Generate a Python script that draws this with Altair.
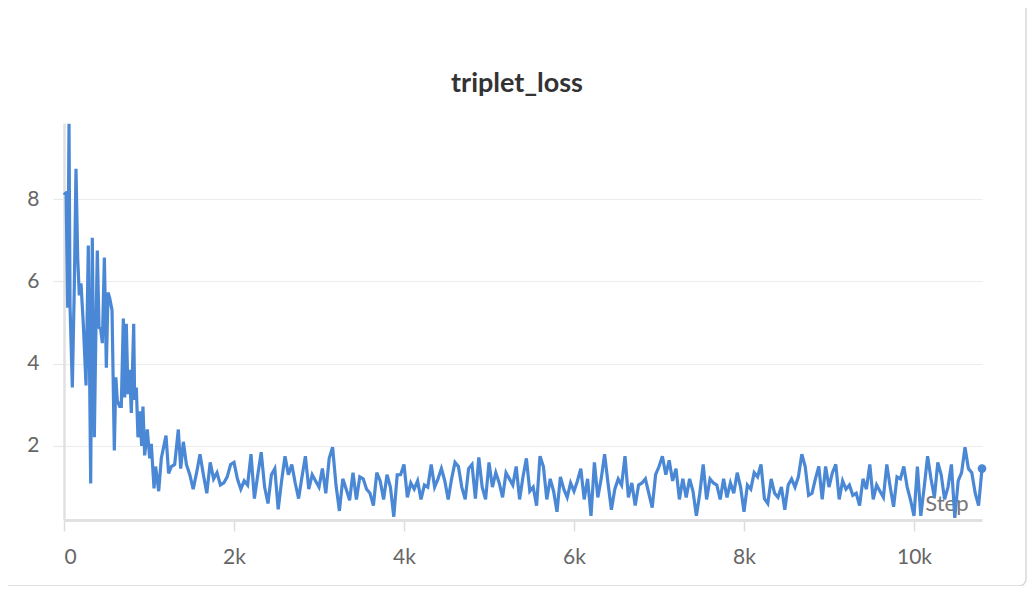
import altair as alt
import pandas as pd

# ---- data ----
steps_early = [0, 12, 25, 43, 59, 71, 98, 122, 141, 161, 180, 200, 227, 259, 286,
               314, 333, 357, 373, 392, 412, 431, 451, 475, 498, 518, 537, 565, 592, 610,
               627, 655, 674, 698, 714, 733, 753, 772, 792, 820, 831, 851, 870, 890, 914,
               929, 949, 980, 1008, 1027, 1059, 1078, 1114, 1145, 1200, 1231, 1263, 1302,
               1345, 1373, 1404]
loss_early = [8.1, 8.13, 8.15, 5.36, 9.83, 5.4, 3.42, 5.95, 8.74, 6.58, 5.66, 5.95, 4.97, 3.47, 6.87,
              1.09, 7.06, 2.21, 4.49, 6.75, 4.88, 4.85, 4.5, 6.58, 3.9, 5.73, 5.6, 5.3, 1.89, 3.67,
              3.1, 2.96, 2.96, 5.1, 3.18, 4.97, 3.26, 3.85, 2.8, 4.97, 3.12, 3.42, 2.21, 2.84, 2.0,
              2.96, 1.77, 2.4, 1.7, 2.05, 0.97, 1.5, 0.9, 1.7, 2.25, 1.33, 1.5, 1.55,
              2.4, 1.45, 2.1]

tail_start = 1440
tail_interval = 40
loss_tail = [
    1.55, 1.3, 0.95, 1.35, 1.8, 1.3, 0.85, 1.6, 1.2, 1.35, 1.05, 1.1, 1.25, 1.55, 1.6, 1.2,
    0.95, 1.15, 1.05, 1.8, 0.72, 1.3, 1.85, 1.0, 0.6, 1.3, 1.45, 0.46, 1.15, 1.75, 1.3, 1.55,
    1.1, 0.72, 1.25, 1.75, 0.95, 1.3, 1.15, 1.0, 1.45, 0.85, 1.7, 1.97, 1.05, 0.42, 1.2, 0.95,
    0.68, 1.35, 0.7, 1.25,
    1.2, 0.95, 0.85, 0.55, 1.35, 1.15, 0.7, 1.3, 1.0, 0.28, 1.3, 1.3, 1.55, 0.75, 1.1, 0.95,
    1.15, 0.7, 1.05, 1.0, 1.55, 1.0, 1.2, 1.45, 1.15, 0.7, 1.2, 1.6, 1.5, 1.0, 0.7, 1.45,
    1.55, 0.72, 1.72, 1.0, 0.7, 1.6, 1.0, 1.35, 1.1, 0.75, 1.35, 1.2, 1.05, 1.5, 0.7, 1.25,
    1.7, 0.9, 1.0, 0.55, 1.75, 1.5, 0.7, 1.2, 0.9, 0.4, 1.25, 0.95, 0.75,
    1.1, 0.9, 1.15, 1.45, 0.7, 1.2, 0.3, 1.6, 0.75, 1.2, 1.8, 1.1, 0.45, 0.95, 1.2, 1.05,
    1.75, 0.75, 1.1, 0.55, 1.05, 1.1, 1.2, 0.85, 0.5, 1.3, 1.5, 1.75, 1.3, 1.65, 1.15, 1.45,
    0.7, 1.2, 0.75, 1.2, 0.9, 0.3, 0.85, 1.55, 0.7, 1.2, 1.1, 1.05, 0.7, 1.2, 0.75, 1.1,
    0.85, 1.35, 1.0, 0.4, 1.05, 0.95, 1.35, 1.25, 1.55, 0.72, 0.6, 1.2, 0.85, 0.75,
    1.0, 0.45, 1.05, 1.2, 1.0, 1.25, 1.8, 1.5, 0.8, 0.85, 1.2, 1.5, 0.7, 1.5, 1.0, 1.35,
    1.55, 0.7, 1.15, 0.95, 1.05, 0.8, 0.85, 0.55, 1.2, 0.95, 1.55, 0.7, 1.05, 0.9, 0.75, 1.55,
    1.0, 0.52, 1.25, 1.2, 1.5, 1.0, 0.68, 0.3, 1.5, 0.3, 1.0, 1.75, 1.2, 0.75, 1.6, 1.3,
    0.7, 1.0, 1.55, 0.25, 1.15, 1.35, 1.97, 1.45, 1.35, 0.85, 0.55, 1.45,
]
steps_tail = [tail_start + tail_interval * i for i in range(len(loss_tail))]

x_ticks = [0, 2000, 4000, 6000, 8000, 10000]
y_ticks = [2, 4, 6, 8]
x_domain = [0, 10800]
y_domain = [0.2, 9.85]

chart_title = "triplet_loss"
x_title = "Step"

# ---- styling ----
BLUE = "#4a88d6"
FONT = "Lato"
W, H = 918, 397

df = pd.DataFrame({"step": steps_early + steps_tail, "loss": loss_early + loss_tail})
last = df.tail(1)
title_df = pd.DataFrame({"label": [chart_title]})

x_enc = alt.X(
    "step:Q",
    scale=alt.Scale(domain=x_domain, nice=False, zero=False),
    axis=alt.Axis(
        values=x_ticks, grid=False, zindex=0,
        labelExpr="datum.value == 0 ? '0' : format(datum.value / 1000, 'd') + 'k'",
        domainColor="#e1e1e1", domainWidth=3,
        tickColor="#dcdcdc", tickSize=11, tickWidth=1.5,
        labelColor="#666666", labelFontSize=21, labelPadding=15, labelFont=FONT,
        title=x_title, titleX=W - 14, titleY=-17, titleAlign="right",
        titleBaseline="middle", titleFontWeight="normal", titleColor="#777777",
        titleFontSize=22, titleFont=FONT,
    ),
)
y_enc = alt.Y(
    "loss:Q",
    scale=alt.Scale(domain=y_domain, nice=False, zero=False),
    axis=alt.Axis(
        values=y_ticks, title=None, zindex=0,
        domainColor="#e1e1e1", domainWidth=2.5,
        tickColor="#e8e8e8", tickSize=11, tickWidth=1.2,
        gridColor="#ececec", gridWidth=1.2,
        labelColor="#666666", labelFontSize=21, labelPadding=14, labelFont=FONT,
    ),
)

card = alt.Chart(last).mark_rect(
    fill="white", fillOpacity=0, stroke="#d8d8d8", strokeWidth=1.5, cornerRadius=7
).encode(
    x=alt.value(-80), x2=alt.value(962), y=alt.value(-140), y2=alt.value(463)
)

title_mark = alt.Chart(title_df).mark_text(
    font=FONT, fontSize=27, fontWeight="bold", color="#333333",
    align="center", baseline="alphabetic"
).encode(x=alt.value(453), y=alt.value(-31), text="label:N")

line = alt.Chart(df).mark_line(color=BLUE, strokeWidth=3.2, strokeJoin="miter").encode(
    x=x_enc, y=y_enc
)
dot = alt.Chart(last).mark_circle(color=BLUE, size=75, opacity=1).encode(
    x="step:Q", y="loss:Q"
)

chart = (
    alt.layer(card, title_mark, line, dot)
    .properties(
        width=W,
        height=H,
        autosize=alt.AutoSizeParams(type="none"),
        padding={"left": 56, "top": 115, "right": 46, "bottom": 66},
        background="white",
    )
    .configure_view(stroke=None)
)

chart.save("out.html", embed_options={"renderer": "svg", "actions": False})
